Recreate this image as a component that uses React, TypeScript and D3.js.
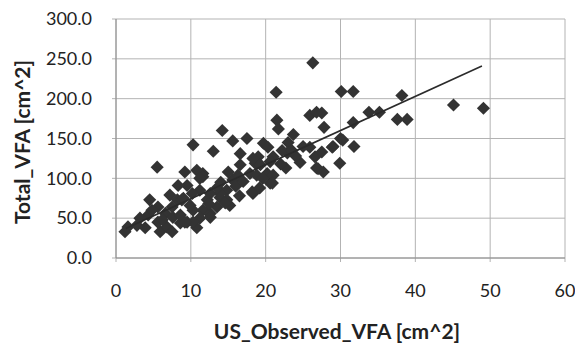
import { useEffect } from "react";
import * as d3 from "d3";

const obsX = [
  26.3, 21.4, 30.1, 31.7, 38.2, 45.1, 49.1, 33.8, 35.2, 37.6, 38.9, 31.7, 31.8, 29.9, 27.7, 27.8, 27.5, 30, 29,
  25.9, 26.8, 21.5, 21.7, 14.2, 13, 15.6, 17.5, 16.6, 19.7, 20.3, 23.7, 23, 24.6, 22.7, 26.6, 27.5, 26.8, 30.3,
  18.3, 20.6, 20.2, 18.6, 17.9, 15.6, 14.8, 15, 16.6, 19, 21, 22.9, 11.6, 12.6, 13.9, 15.2, 12.2, 13.5,
  5.5, 10.3, 9.2, 10.8, 11.6, 9.5, 7.2, 8.2, 4.5, 5.6, 4.3, 3.2, 1.6, 1.2, 2.8, 3.9, 6.6, 7.5, 8.8, 5.9, 6.8,
  5.6, 7.6, 8.6, 7.5, 8.3, 11.2, 12.2, 11.6, 10.3, 9.5, 8.6, 11.2, 12.6, 13.9, 14.8, 9.9, 10.8,
  22.2, 25.9, 28.9, 27, 18.3, 19.3, 20.6, 18.8, 21, 20.9, 16.3, 13.5, 14.6, 18.2, 10.2, 9, 12.6, 10.3, 9.2, 11.2,
  16, 17, 19.2, 14, 12.4, 16.5, 19.6, 22, 24, 25, 23.5, 6.2, 4.8,
];
const totalY = [
  245, 208, 209, 209, 204, 192, 188, 183, 183, 174, 174, 170, 140, 119, 108, 164, 182, 150, 140,
  179, 183, 173, 162, 160, 134, 147, 150, 131, 144, 139, 155, 145, 120, 113, 127, 133, 113, 148,
  81, 94, 106, 119, 106, 98, 85, 108, 117, 127, 127, 132, 106, 81, 76, 66, 58, 64,
  114, 142, 108, 110, 102, 91, 79, 73, 73, 64, 54, 50, 39, 33, 41, 38, 56, 64, 73, 33, 39,
  45, 51, 44, 33, 91, 85, 73, 60, 60, 45, 54, 50, 56, 81, 73, 66, 38,
  135, 139, 139, 112, 125, 117, 121, 104, 104, 94, 104, 88, 69, 83, 81, 75, 51, 45, 45, 100,
  90, 96, 88, 95, 68, 78, 100, 118, 128, 140, 135, 48, 60,
];

// linear trendline ends
const trendX = [1.3, 48.9];
const trendY = [37, 241];

const xTicks = [0, 10, 20, 30, 40, 50, 60];
const yTicks = [0, 50, 100, 150, 200, 250, 300];

const W = 575;
const H = 345;
const font = "Lato, 'Open Sans', sans-serif";

export default function App() {
  useEffect(() => {
    document.body.style.margin = "0";
  }, []);

  const x = d3.scaleLinear().domain([0, 60]).range([116, 565]);
  const y = d3.scaleLinear().domain([0, 300]).range([258, 19]);

  const diamond = d3.symbol().type(d3.symbolDiamond2).size(110)();
  const trend = d3
    .line<number>()
    .x((d) => x(d))
    .y((_, i) => y(trendY[i]));

  return (
    <svg width={W} height={H} style={{ display: "block", background: "#fff" }}>
      {/* grid */}
      {xTicks.map((t) => (
        <line key={"gx" + t} x1={x(t)} x2={x(t)} y1={y(300)} y2={y(0) + 4} stroke="#b3b3b3" strokeWidth={1} />
      ))}
      {yTicks.map((t) => (
        <line key={"gy" + t} x1={x(0) - 4} x2={x(60)} y1={y(t)} y2={y(t)} stroke="#b3b3b3" strokeWidth={1} />
      ))}
      <line x1={x(0)} x2={x(0)} y1={y(300)} y2={y(0)} stroke="#8c8c8c" />
      <line x1={x(0)} x2={x(60)} y1={y(0)} y2={y(0)} stroke="#8c8c8c" />

      {obsX.map((v, i) => (
        <path key={i} d={diamond} transform={`translate(${x(v)},${y(totalY[i])})`} fill="#333" />
      ))}

      <path d={trend(trendX) ?? ""} fill="none" stroke="#2b2b2b" strokeWidth={1.6} />

      {yTicks.map((t) => (
        <text key={"ty" + t} x={92} y={y(t)} dy="0.35em" textAnchor="end" fontFamily={font} fontSize={18} fill="#222">
          {d3.format(".1f")(t)}
        </text>
      ))}
      {xTicks.map((t) => (
        <text key={"tx" + t} x={x(t)} y={297} textAnchor="middle" fontFamily={font} fontSize={18} fill="#222">
          {t}
        </text>
      ))}

      <text x={337} y={339} textAnchor="middle" fontFamily={font} fontSize={21} fontWeight="bold" fill="#222">
        US_Observed_VFA [cm^2]
      </text>
      <text
        transform={`translate(30,${142}) rotate(-90)`}
        textAnchor="middle"
        fontFamily={font}
        fontSize={21}
        fontWeight="bold"
        fill="#222"
      >
        Total_VFA [cm^2]
      </text>
    </svg>
  );
}
